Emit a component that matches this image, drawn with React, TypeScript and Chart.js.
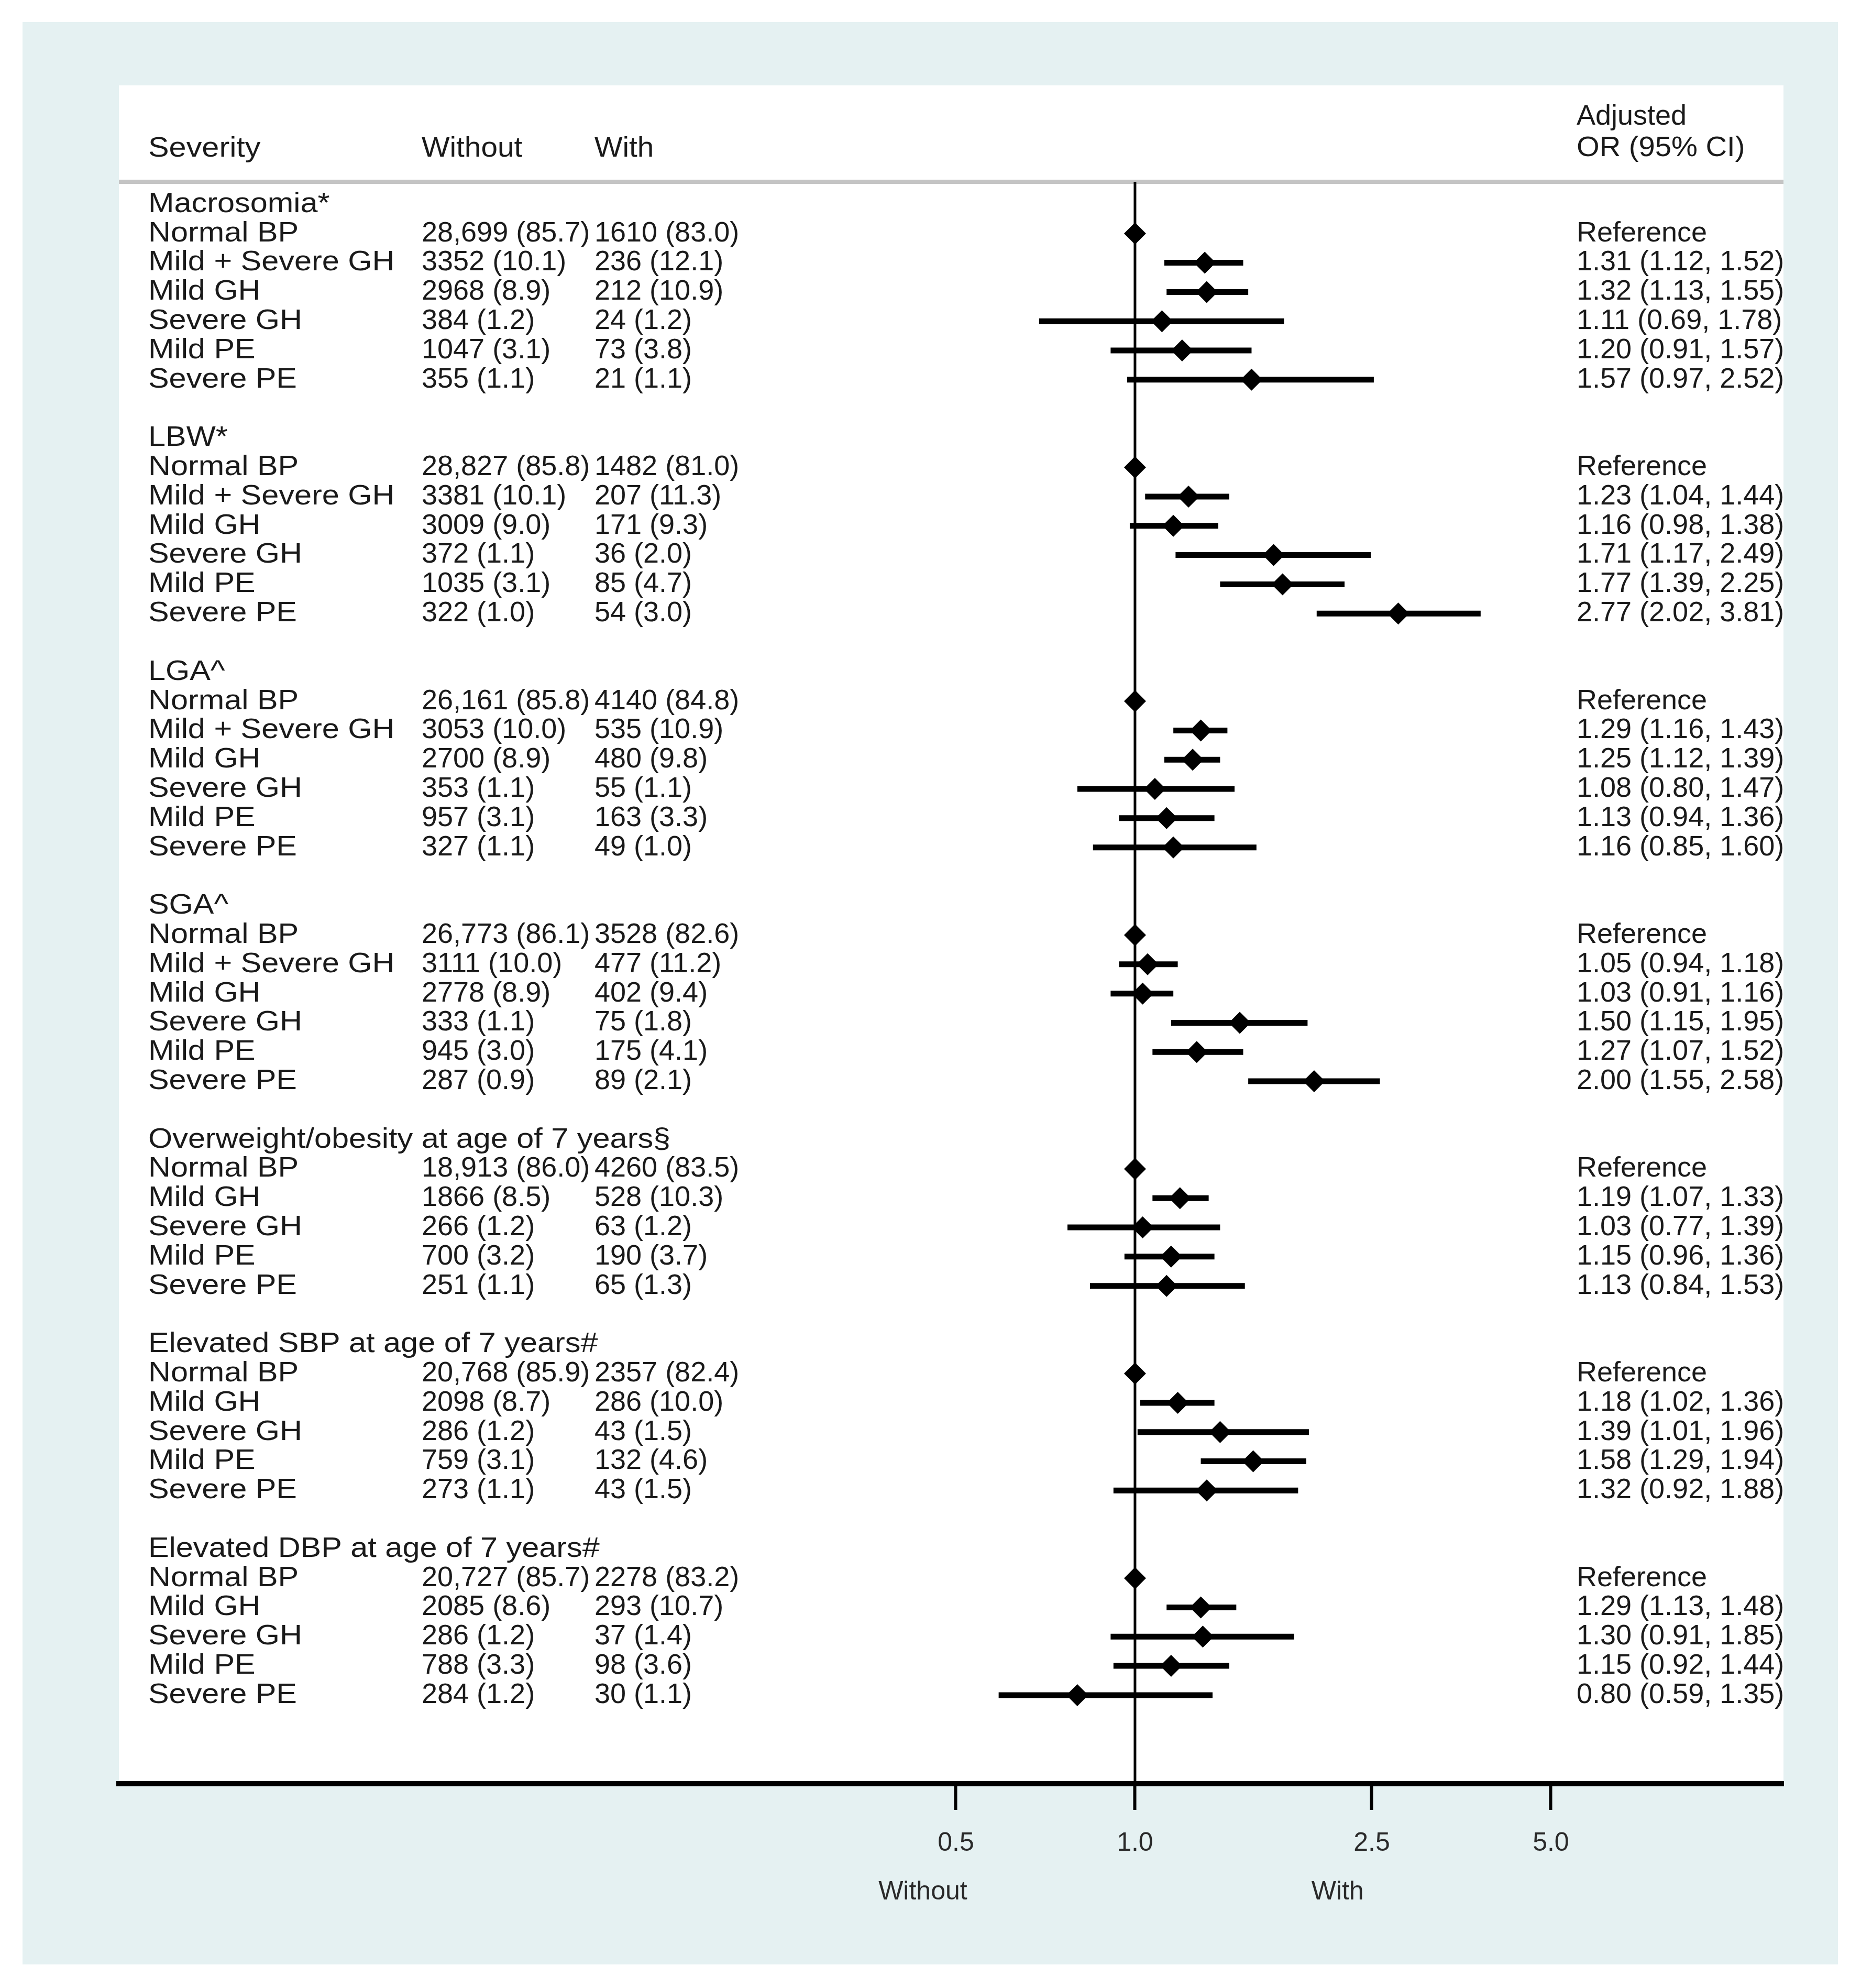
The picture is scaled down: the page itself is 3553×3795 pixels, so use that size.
import React, { useEffect, useRef } from "react";
import { Chart, registerables } from "chart.js";

Chart.register(...registerables);

// ---------- data ----------
const OUTCOMES = [
  "Macrosomia*",
  "LBW*",
  "LGA^",
  "SGA^",
  "Overweight/obesity at age of 7 years§",
  "Elevated SBP at age of 7 years#",
  "Elevated DBP at age of 7 years#",
];

const SEVERITY_SIX = ["Normal BP", "Mild + Severe GH", "Mild GH", "Severe GH", "Mild PE", "Severe PE"];
const SEVERITY_FIVE = ["Normal BP", "Mild GH", "Severe GH", "Mild PE", "Severe PE"];
const SEVERITY = [SEVERITY_SIX, SEVERITY_SIX, SEVERITY_SIX, SEVERITY_SIX, SEVERITY_FIVE, SEVERITY_FIVE, SEVERITY_FIVE];

const WITHOUT_N = [
  [28699, 3352, 2968, 384, 1047, 355],
  [28827, 3381, 3009, 372, 1035, 322],
  [26161, 3053, 2700, 353, 957, 327],
  [26773, 3111, 2778, 333, 945, 287],
  [18913, 1866, 266, 700, 251],
  [20768, 2098, 286, 759, 273],
  [20727, 2085, 286, 788, 284],
];
const WITHOUT_PCT = [
  [85.7, 10.1, 8.9, 1.2, 3.1, 1.1],
  [85.8, 10.1, 9.0, 1.1, 3.1, 1.0],
  [85.8, 10.0, 8.9, 1.1, 3.1, 1.1],
  [86.1, 10.0, 8.9, 1.1, 3.0, 0.9],
  [86.0, 8.5, 1.2, 3.2, 1.1],
  [85.9, 8.7, 1.2, 3.1, 1.1],
  [85.7, 8.6, 1.2, 3.3, 1.2],
];
const WITH_N = [
  [1610, 236, 212, 24, 73, 21],
  [1482, 207, 171, 36, 85, 54],
  [4140, 535, 480, 55, 163, 49],
  [3528, 477, 402, 75, 175, 89],
  [4260, 528, 63, 190, 65],
  [2357, 286, 43, 132, 43],
  [2278, 293, 37, 98, 30],
];
const WITH_PCT = [
  [83.0, 12.1, 10.9, 1.2, 3.8, 1.1],
  [81.0, 11.3, 9.3, 2.0, 4.7, 3.0],
  [84.8, 10.9, 9.8, 1.1, 3.3, 1.0],
  [82.6, 11.2, 9.4, 1.8, 4.1, 2.1],
  [83.5, 10.3, 1.2, 3.7, 1.3],
  [82.4, 10.0, 1.5, 4.6, 1.5],
  [83.2, 10.7, 1.4, 3.6, 1.1],
];
const ODDS_RATIO = [
  [1, 1.31, 1.32, 1.11, 1.20, 1.57],
  [1, 1.23, 1.16, 1.71, 1.77, 2.77],
  [1, 1.29, 1.25, 1.08, 1.13, 1.16],
  [1, 1.05, 1.03, 1.50, 1.27, 2.00],
  [1, 1.19, 1.03, 1.15, 1.13],
  [1, 1.18, 1.39, 1.58, 1.32],
  [1, 1.29, 1.30, 1.15, 0.80],
];
const CI_LOW = [
  [null, 1.12, 1.13, 0.69, 0.91, 0.97],
  [null, 1.04, 0.98, 1.17, 1.39, 2.02],
  [null, 1.16, 1.12, 0.80, 0.94, 0.85],
  [null, 0.94, 0.91, 1.15, 1.07, 1.55],
  [null, 1.07, 0.77, 0.96, 0.84],
  [null, 1.02, 1.01, 1.29, 0.92],
  [null, 1.13, 0.91, 0.92, 0.59],
];
const CI_HIGH = [
  [null, 1.52, 1.55, 1.78, 1.57, 2.52],
  [null, 1.44, 1.38, 2.49, 2.25, 3.81],
  [null, 1.43, 1.39, 1.47, 1.36, 1.60],
  [null, 1.18, 1.16, 1.95, 1.52, 2.58],
  [null, 1.33, 1.39, 1.36, 1.53],
  [null, 1.36, 1.96, 1.94, 1.88],
  [null, 1.48, 1.85, 1.44, 1.35],
];
const X_TICKS = [0.5, 1, 2.5, 5];
const HEADER_COLS = ["Severity", "Without", "With"];
const HEADER_OR = ["Adjusted", "OR (95% CI)"];
const AXIS_SIDE_LABELS = ["Without", "With"];

// ---------- layout constants ----------
const W = 3553;
const H = 3795;
const PANEL = { left: 227, top: 163, right: 3405, bottom: 3405 };
const OUTER = { left: 43, top: 42, right: 3509, bottom: 3750 };
const HEADER_LINE_Y = 347;
const X_MIN = 0.0196;
const X_MAX = 12.3;
const Y_MIN = -0.77;
const Y_MAX = 54.03;
const FONT = "'Liberation Sans', Arial, Helvetica, sans-serif";
const TEXT_COLOR = "#1a1a1a";
const COL_LABEL = 283;
const COL_WITHOUT = 805;
const COL_WITH = 1135;
const COL_OR = 3010;
const LABEL_STRETCH = 1.1;

const fmtN = (n: number) => (n >= 10000 ? n.toLocaleString("en-US") : String(n));

type Row =
  | { kind: "title"; r: number; text: string }
  | { kind: "data"; r: number; label: string; without: string; withS: string; orText: string; or: number; lo: number | null; hi: number | null };

function buildRows(): Row[] {
  const rows: Row[] = [];
  let r = 0;
  OUTCOMES.forEach((title, s) => {
    rows.push({ kind: "title", r: r++, text: title });
    SEVERITY[s].forEach((label, i) => {
      const lo = CI_LOW[s][i];
      const hi = CI_HIGH[s][i];
      const or = ODDS_RATIO[s][i];
      rows.push({
        kind: "data",
        r: r++,
        label,
        without: `${fmtN(WITHOUT_N[s][i])} (${WITHOUT_PCT[s][i].toFixed(1)})`,
        withS: `${fmtN(WITH_N[s][i])} (${WITH_PCT[s][i].toFixed(1)})`,
        orText: lo == null ? "Reference" : `${or.toFixed(2)} (${lo.toFixed(2)}, ${(hi as number).toFixed(2)})`,
        or,
        lo,
        hi,
      });
    });
    r++; // blank spacer row
  });
  return rows;
}

function drawText(ctx: CanvasRenderingContext2D, s: string, x: number, y: number, size: number, color: string, align: CanvasTextAlign = "left", sx = 1) {
  ctx.save();
  ctx.font = `${size}px ${FONT}`;
  ctx.fillStyle = color;
  ctx.textAlign = align;
  ctx.textBaseline = "middle";
  ctx.translate(x, y);
  ctx.scale(sx, 1);
  ctx.fillText(s, 0, 0);
  ctx.restore();
}

export default function App() {
  const ref = useRef<HTMLCanvasElement | null>(null);

  useEffect(() => {
    document.body.style.margin = "0";
    const canvas = ref.current;
    if (!canvas) return;
    const rows = buildRows();

    const points = rows
      .filter((r) => r.kind === "data")
      .map((r: any) => ({ x: r.or, y: r.r }));
    const ciSegments: any[] = [];
    rows.forEach((r: any) => {
      if (r.kind === "data" && r.lo != null) {
        ciSegments.push({ x: r.lo, y: r.r }, { x: r.hi, y: r.r }, { x: null, y: null });
      }
    });

    const textPlugin = {
      id: "forestText",
      beforeDraw(chart: any) {
        const ctx: CanvasRenderingContext2D = chart.ctx;
        ctx.save();
        ctx.fillStyle = "#ffffff";
        ctx.fillRect(0, 0, W, H);
        ctx.fillStyle = "#e5f1f2";
        ctx.fillRect(OUTER.left, OUTER.top, OUTER.right - OUTER.left, OUTER.bottom - OUTER.top);
        ctx.fillStyle = "#ffffff";
        ctx.fillRect(PANEL.left, PANEL.top, PANEL.right - PANEL.left, PANEL.bottom - PANEL.top);
        ctx.fillStyle = "#c4c4c4";
        ctx.fillRect(PANEL.left, HEADER_LINE_Y - 4, PANEL.right - PANEL.left, 8);
        ctx.restore();

        drawText(ctx, HEADER_COLS[0], COL_LABEL, 284, 54, TEXT_COLOR, "left", LABEL_STRETCH);
        drawText(ctx, HEADER_COLS[1], COL_WITHOUT, 284, 54, TEXT_COLOR, "left", 1.05);
        drawText(ctx, HEADER_COLS[2], COL_WITH, 284, 54, TEXT_COLOR, "left", 1.05);
        drawText(ctx, HEADER_OR[0], COL_OR, 223, 54, TEXT_COLOR);
        drawText(ctx, HEADER_OR[1], COL_OR, 283, 54, TEXT_COLOR, "left", 1.04);
      },
      afterDraw(chart: any) {
        const ctx: CanvasRenderingContext2D = chart.ctx;
        const ys = chart.scales.y;
        const xs = chart.scales.x;
        rows.forEach((row) => {
          const y = ys.getPixelForValue(row.r);
          if (row.kind === "title") {
            drawText(ctx, row.text, COL_LABEL, y, 54, TEXT_COLOR, "left", LABEL_STRETCH);
          } else {
            drawText(ctx, row.label, COL_LABEL, y, 54, TEXT_COLOR, "left", LABEL_STRETCH);
            drawText(ctx, row.without, COL_WITHOUT, y, 54, TEXT_COLOR);
            drawText(ctx, row.withS, COL_WITH, y, 54, TEXT_COLOR);
            drawText(ctx, row.orText, COL_OR, y, 54, TEXT_COLOR);
          }
        });
        // side labels under the axis
        drawText(ctx, AXIS_SIDE_LABELS[0], xs.getPixelForValue(0.44), 3612, 50, "#2a2a2a", "center");
        drawText(ctx, AXIS_SIDE_LABELS[1], xs.getPixelForValue(2.19), 3612, 50, "#2a2a2a", "center");
      },
    };

    const chart = new Chart(canvas, {
      type: "scatter",
      data: {
        datasets: [
          {
            label: "Adjusted OR",
            data: points,
            pointStyle: "rectRot",
            pointRadius: 21,
            pointHoverRadius: 21,
            backgroundColor: "#000000",
            borderColor: "#000000",
            borderWidth: 0,
            showLine: false,
            order: 0,
          } as any,
          {
            label: "95% CI",
            data: ciSegments,
            showLine: true,
            spanGaps: false,
            borderColor: "#000000",
            borderWidth: 11,
            borderCapStyle: "butt",
            pointRadius: 0,
            pointHoverRadius: 0,
            order: 1,
          } as any,
          {
            label: "Null",
            data: [
              { x: 1, y: Y_MIN },
              { x: 1, y: Y_MAX },
            ],
            showLine: true,
            borderColor: "#000000",
            borderWidth: 5,
            pointRadius: 0,
            pointHoverRadius: 0,
            order: 2,
          } as any,
        ],
      },
      options: {
        responsive: false,
        animation: false,
        devicePixelRatio: 1,
        events: [],
        layout: { padding: { left: PANEL.left, right: W - PANEL.right, top: HEADER_LINE_Y, bottom: 0 } },
        plugins: { legend: { display: false }, tooltip: { enabled: false }, title: { display: false } },
        scales: {
          x: {
            type: "logarithmic",
            position: "bottom",
            min: X_MIN,
            max: X_MAX,
            afterBuildTicks: (s: any) => {
              s.ticks = X_TICKS.map((v) => ({ value: v }));
            },
            afterFit: (s: any) => {
              s.height = H - PANEL.bottom;
            },
            ticks: {
              callback: (v: any) => Number(v).toFixed(1),
              font: { family: FONT, size: 50 },
              color: "#2a2a2a",
              padding: 34,
              autoSkip: false,
              maxRotation: 0,
              minRotation: 0,
            },
            grid: {
              drawOnChartArea: false,
              drawTicks: true,
              tickLength: 50,
              tickWidth: 6,
              tickColor: "#000000",
              color: "#000000",
            },
            border: { display: true, color: "#000000", width: 10 },
          } as any,
          y: {
            type: "linear",
            reverse: true,
            min: Y_MIN,
            max: Y_MAX,
            display: false,
          },
        },
      },
      plugins: [textPlugin],
    });
    return () => chart.destroy();
  }, []);

  return <canvas ref={ref} width={W} height={H} style={{ display: "block", width: W, height: H }} />;
}
